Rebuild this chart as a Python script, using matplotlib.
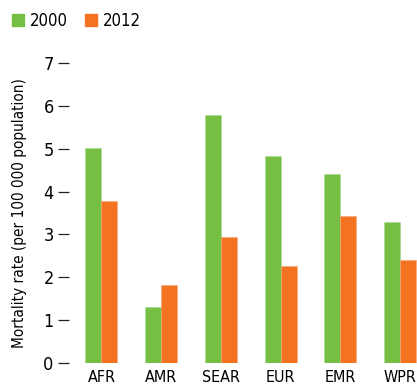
import numpy as np
import matplotlib
matplotlib.use("Agg")
import matplotlib.pyplot as plt
from matplotlib.patches import Patch

plt.rcParams['font.family'] = ['DejaVu Sans']
plt.rcParams['font.stretch'] = 'condensed'

regions = ['AFR', 'AMR', 'SEAR', 'EUR', 'EMR', 'WPR']
rate_2000 = [5.01, 1.31, 5.78, 4.82, 4.40, 3.30]
rate_2012 = [3.78, 1.83, 2.95, 2.27, 3.44, 2.41]
years = ['2000', '2012']

green = '#76bf43'
orange = '#f47321'

fig = plt.figure(figsize=(4.17, 3.85), dpi=100)
ax = fig.add_axes([69 / 417, 22 / 385, 348 / 417, 300 / 385])

x = np.arange(len(regions))
w = 0.268
ax.bar(x - w / 2, rate_2000, w, color=green, edgecolor='#a6d98a', linewidth=0.4)
ax.bar(x + w / 2, rate_2012, w, color=orange, edgecolor='#f9a577', linewidth=0.4)

ax.set_xlim(-0.544, 5.285)
ax.set_ylim(0, 7)
ax.set_yticks(range(8))
ax.set_xticks(x)
ax.set_xticklabels(regions)

for s in ax.spines.values():
    s.set_visible(False)

ax.tick_params(axis='y', direction='out', length=8, width=0.9, pad=3, labelsize=13, color='#222222')
ax.tick_params(axis='x', length=0, pad=5, labelsize=11.5)
ax.set_ylabel('Mortality rate (per 100 000 population)', fontsize=11, labelpad=12)

handles = [Patch(color=green), Patch(color=orange)]
fig.legend(handles, years, loc='upper left', bbox_to_anchor=(0.0, 1.0), ncol=2, frameon=False,
           fontsize=12, handlelength=0.75, handleheight=0.75, handletextpad=0.35, columnspacing=1.0,
           borderaxespad=0.3)

fig.savefig('out.png', dpi=100)
